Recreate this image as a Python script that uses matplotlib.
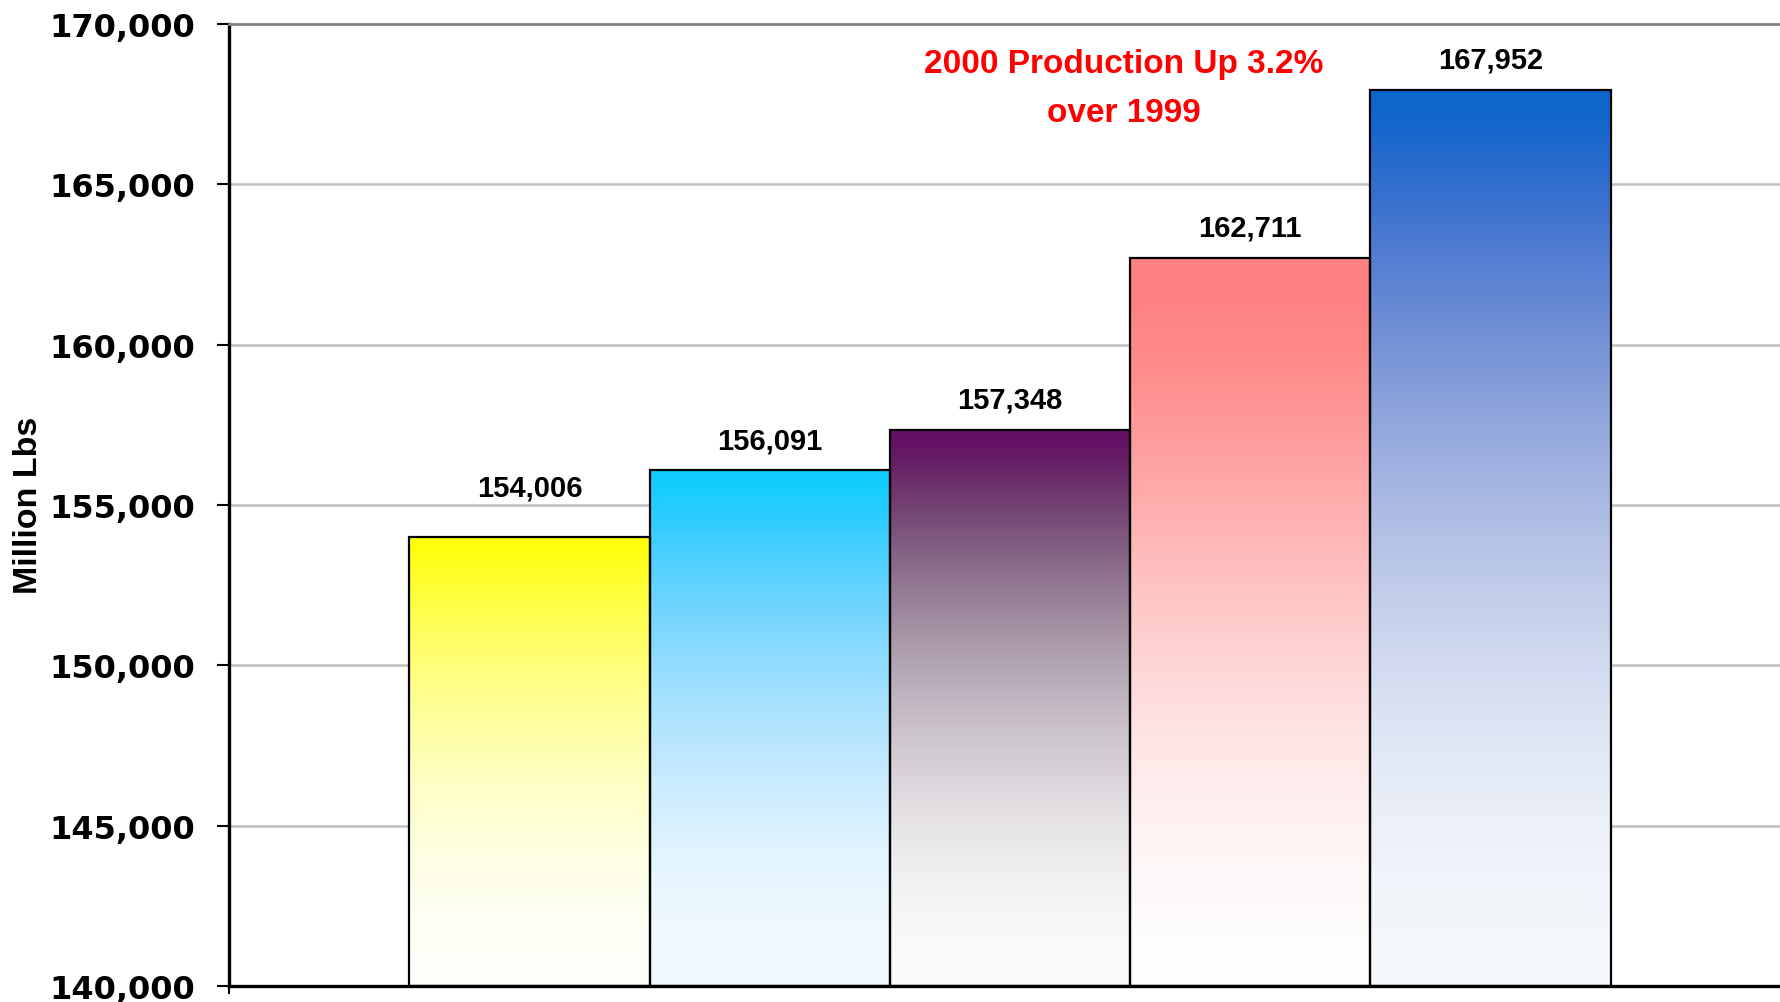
import numpy as np
import matplotlib
matplotlib.use("Agg")
import matplotlib.pyplot as plt
from matplotlib.colors import to_rgb
from matplotlib.ticker import FuncFormatter

# ---- data ----
values = [154006, 156091, 157348, 162711, 167952]
labels = ["154,006", "156,091", "157,348", "162,711", "167,952"]
top_colors = ["#FFFF08", "#10CCFE", "#640F64", "#FF8080", "#0C66CC"]
bottom_colors = ["#FFFFFA", "#F3FAFF", "#FBFBFB", "#FFFDFD", "#F4F8FC"]
yticks = [140000, 145000, 150000, 155000, 160000, 165000, 170000]
ylabel = "Million Lbs"
note_line1 = "2000 Production Up 3.2%"
note_line2 = "over 1999"

W, H = 1781, 1003
fig = plt.figure(figsize=(W / 100, H / 100), dpi=100)
ax = fig.add_axes([229 / W, (H - 987) / H, (1791 - 229) / W, (987 - 25) / H])

ymin, ymax = 140000, 170000


def to_lin(c):
    c = np.asarray(c)
    return np.where(c <= 0.04045, c / 12.92, ((c + 0.055) / 1.055) ** 2.4)


def to_srgb(c):
    c = np.clip(c, 0, 1)
    return np.where(c <= 0.0031308, c * 12.92, 1.055 * c ** (1 / 2.4) - 0.055)


# gridlines
for t in yticks[1:-1]:
    ax.axhline(t, color="#C0C0C0", lw=1.8, zorder=0)

xs = np.arange(len(values))
label_offsets = [30.0, 15.8, 15.8, 15.8, 15.8]
for x, v, ct, cb, lab, off in zip(xs, values, top_colors, bottom_colors,
                                  labels, label_offsets):
    t = to_lin(to_rgb(ct))
    b = to_lin(to_rgb(cb))
    p = np.linspace(0, 1, 512)[:, None]
    f = p * p * (3 - 2 * p)
    grad = to_srgb(b[None, :] * (1 - f) + t[None, :] * f)[:, None, :]
    im = ax.imshow(grad, extent=[x - 0.5, x + 0.5, ymin, v], origin="lower",
                   aspect="auto", interpolation="bilinear", zorder=2)
    bar = ax.bar(x, v - ymin, bottom=ymin, width=1.0, facecolor="none",
                 edgecolor="black", linewidth=1.6, zorder=3)[0]
    im.set_clip_path(bar)
    ax.annotate(lab, xy=(x, v), xytext=(0, off), textcoords="offset points",
                ha="center", va="baseline", fontsize=21, fontweight="bold",
                family="Liberation Sans", color="black")

ax.set_xlim(-1.25, 5.25)
ax.set_ylim(ymin, ymax)

ax.set_yticks(yticks)
ax.yaxis.set_major_formatter(FuncFormatter(lambda v, p: f"{int(v):,}"))
ax.tick_params(axis="y", length=8.6, width=1.5, pad=15.5, labelsize=23,
               direction="out", color="black")
for lbl in ax.get_yticklabels():
    lbl.set_fontweight("bold")
    lbl.set_family("DejaVu Sans")

ax.set_xticks([-1.25, 5.25])
ax.set_xticklabels([])
ax.tick_params(axis="x", length=6, width=1.5, direction="out")

for s in ["left", "bottom"]:
    ax.spines[s].set_color("black")
    ax.spines[s].set_linewidth(2.4)
ax.spines["top"].set_color("#808080")
ax.spines["top"].set_linewidth(2.0)
ax.spines["right"].set_visible(False)

ax.text(0.573, 0.950, note_line1, transform=ax.transAxes, ha="center",
        va="baseline", fontsize=24, fontweight="bold", color="#FF0000",
        family="Liberation Sans")
ax.text(0.573, 0.899, note_line2, transform=ax.transAxes, ha="center",
        va="baseline", fontsize=24, fontweight="bold", color="#FF0000",
        family="Liberation Sans")

fig.text(29 / W, (H - 505) / H, ylabel, rotation=90, ha="center", va="center",
         fontsize=24.5, fontweight="bold", family="Liberation Sans")

fig.savefig("out.png", dpi=100, facecolor="white")
